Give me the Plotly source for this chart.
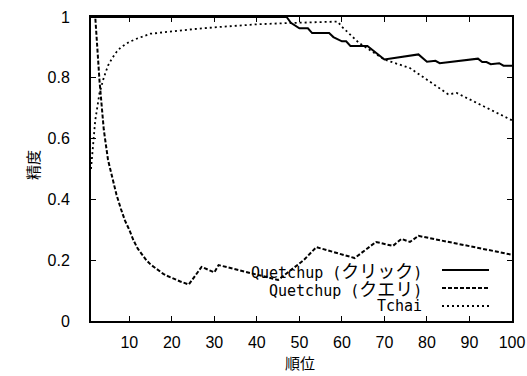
import plotly.graph_objects as go

# Quetchup (クリック) – solid
click_rank = [1, 47, 48, 50, 52, 53, 57, 58, 60, 61, 62, 66, 70, 78, 80, 82, 83, 92, 93, 94, 95, 97, 98, 100]
click_prec = [1.0, 1.0, 0.981, 0.963, 0.963, 0.947, 0.947, 0.934, 0.92, 0.92, 0.905, 0.905, 0.86, 0.877, 0.853, 0.856, 0.848, 0.863, 0.852, 0.852, 0.845, 0.848, 0.84, 0.84]

# Quetchup (クエリ) – dashed
query_rank = [1, 2, 3, 4, 5, 6, 7, 8, 9, 10, 11, 12, 13, 14, 15, 16, 17, 18, 19, 20, 21, 22, 23, 24,
              27, 30, 31, 45, 51, 54, 63, 68, 72, 74, 76, 78, 100]
query_prec = [1.0, 1.0, 0.79, 0.63, 0.53, 0.47, 0.415, 0.37, 0.33, 0.30, 0.265, 0.238, 0.218, 0.2, 0.186,
              0.175, 0.164, 0.155, 0.148, 0.141, 0.136, 0.13, 0.125, 0.12,
              0.178, 0.16, 0.184, 0.135, 0.2, 0.243, 0.207, 0.26, 0.247, 0.27, 0.26, 0.28, 0.218]

# Tchai – dotted
tchai_rank = [1, 2, 3, 4, 5, 6, 7, 8, 10, 12, 15, 20, 25, 30, 35, 40, 47, 59, 60, 62, 64, 70, 72, 76, 85, 87, 99, 100]
tchai_prec = [0.5, 0.66, 0.75, 0.8, 0.84, 0.865, 0.885, 0.9, 0.918, 0.93, 0.945, 0.953, 0.96, 0.966, 0.972,
              0.976, 0.98, 0.985, 0.968, 0.94, 0.915, 0.86, 0.85, 0.832, 0.746, 0.75, 0.667, 0.66]

x_ticks = [10, 20, 30, 40, 50, 60, 70, 80, 90, 100]
y_ticks = [0, 0.2, 0.4, 0.6, 0.8, 1]
y_tick_text = ["0", "0.2", "0.4", "0.6", "0.8", "1"]

series_names = ["Quetchup (クリック)", "Quetchup (クエリ)", "Tchai"]
dashes = ["solid", "4px,2px", "2px,3px"]
widths = [2, 2, 1.8]

TICK_FONT = dict(family="Liberation Sans, Arial, sans-serif", size=16, color="black")
JP_FONT = dict(family="Noto Sans CJK JP, sans-serif", size=15, color="black")
LEG_FONT = dict(family="Noto Sans CJK JP, sans-serif", size=18, color="black")
MONO = "font-family:'DejaVu Sans Mono',monospace;font-size:15px"


def legend_text(name):
    # Latin characters in a monospace face, kana in the CJK face (gnuplot look)
    out, buf = [], ""
    for ch in name:
        if ord(ch) < 128:
            buf += ch
        else:
            if buf:
                out.append(f'<span style="{MONO}">{buf}</span>')
                buf = ""
            out.append(ch)
    if buf:
        out.append(f'<span style="{MONO}">{buf}</span>')
    return "".join(out)


fig = go.Figure()
for xs, ys, name, d, w in zip([click_rank, query_rank, tchai_rank],
                              [click_prec, query_prec, tchai_prec],
                              series_names, dashes, widths):
    fig.add_trace(go.Scatter(x=xs, y=ys, mode="lines", name=name,
                             line=dict(color="black", width=w, dash=d), showlegend=False))

fig.update_layout(
    width=527, height=376,
    margin=dict(l=91, r=15, t=17, b=55, autoexpand=False),
    paper_bgcolor="white", plot_bgcolor="white",
    showlegend=False,
)
fig.update_xaxes(range=[1, 100], tickvals=x_ticks, ticks="inside", ticklen=5, tickwidth=1,
                 tickcolor="black", showline=True, linecolor="black", linewidth=2, mirror="ticks",
                 showgrid=False, zeroline=False, tickfont=TICK_FONT, automargin=False,
                 ticklabelstandoff=6)
fig.update_yaxes(range=[0, 1], tickvals=y_ticks, ticktext=y_tick_text, ticks="inside", ticklen=5,
                 tickwidth=1, tickcolor="black", showline=True, linecolor="black", linewidth=2,
                 mirror="ticks", showgrid=False, zeroline=False, tickfont=TICK_FONT,
                 ticklabelstandoff=16, automargin=False)

# axis titles
fig.add_annotation(text="順位", xref="paper", yref="paper", x=(300 - 91) / 421, y=(321 - 362) / 304,
                   showarrow=False, font=JP_FONT, xanchor="center", yanchor="middle")
fig.add_annotation(text="精度", xref="paper", yref="paper", x=(32 - 91) / 421, y=(321 - 165) / 304,
                   showarrow=False, font=JP_FONT, textangle=-90, xanchor="center", yanchor="middle")

# gnuplot-style legend (text right aligned, key sample on the right)
row_y = [270, 288, 306]
for name, d, w, ry in zip(series_names, dashes, widths, row_y):
    py = (321 - ry) / 304
    fig.add_annotation(text=legend_text(name), xref="paper", yref="paper", x=(424 - 91) / 421, y=py,
                       showarrow=False, font=LEG_FONT, xanchor="right", yanchor="middle")
    fig.add_shape(type="line", xref="paper", yref="paper",
                  x0=(442 - 91) / 421, x1=(489 - 91) / 421, y0=py, y1=py,
                  line=dict(color="black", width=w, dash=d))

fig.write_html("out.html", config={"displayModeBar": False},
               post_script="document.body.style.margin='0';document.body.style.overflow='hidden';")
